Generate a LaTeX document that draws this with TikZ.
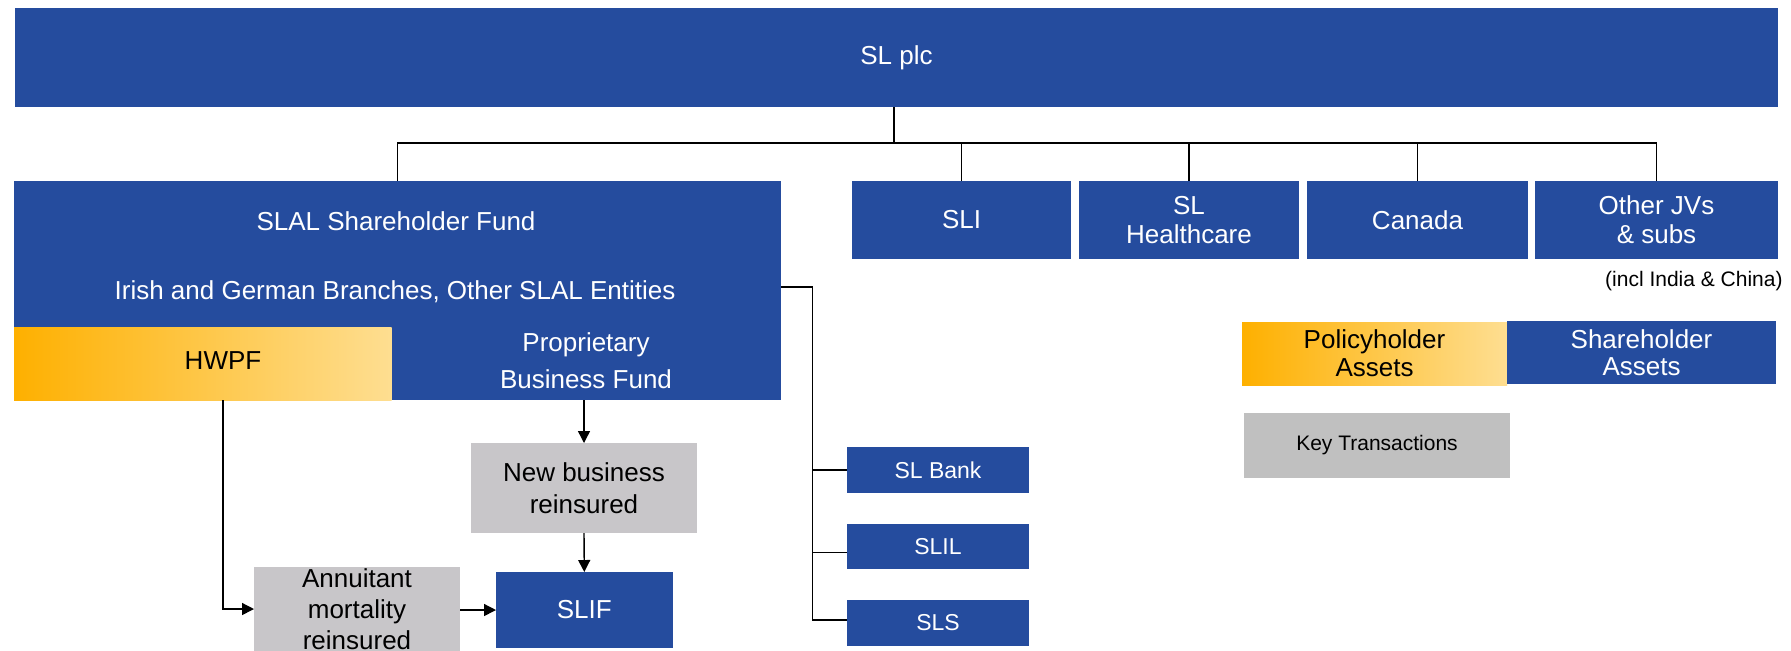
\documentclass[tikz,border=0pt]{standalone}
\usepackage{fontspec}
\setmainfont{Liberation Sans}
\usetikzlibrary{arrows.meta}
\definecolor{slblue}{RGB}{37,76,158}
\definecolor{txgray}{RGB}{200,198,201}
\definecolor{keygray}{RGB}{192,192,192}
\definecolor{orL}{RGB}{254,176,0}
\definecolor{orR}{RGB}{254,222,145}
\begin{document}
\begin{tikzpicture}[x=0.5pt,y=-0.5pt,
  box/.style={rectangle, inner sep=0pt, outer sep=0pt, fill=slblue, text=white, align=center},
  gbox/.style={rectangle, inner sep=0pt, outer sep=0pt, left color=orL, right color=orR, text=black, align=center},
  tbox/.style={rectangle, inner sep=0pt, outer sep=0pt, fill=txgray, text=black, align=center},
  kbox/.style={rectangle, inner sep=0pt, outer sep=0pt, fill=keygray, text=black, align=center},
  big/.style={font=\fontsize{13}{14.6}\selectfont},
  mid/.style={font=\fontsize{11.5}{13}\selectfont},
  small/.style={font=\fontsize{10.5}{12}\selectfont},
  txt/.style={inner sep=0pt, align=center},
  conn/.style={draw=black, line width=0.7pt},
  arr/.style={conn, -{Triangle[length=6pt,width=6pt]}}
]
\clip (0,0) rectangle (1791,650);
\fill[white] (0,0) rectangle (1791,650);

% top
\node[box, big, minimum width=881.5pt, minimum height=49.5pt] (slplc) at (896.5,57.5) {SL plc};

% SLAL block
\node[box, minimum width=383.5pt, minimum height=109.5pt] (slal) at (397.5,290.5) {};
\node[gbox, minimum width=188.75pt, minimum height=36.5pt] (hwpf) at (202.75,363.5) {};
\node[txt, big, text=white] (slalt) at (396,221) {SLAL Shareholder Fund};
\node[txt, big, text=white] (irish) at (395,292) {Irish and German Branches, Other SLAL Entities};
\node[txt, big, text=black] (hwpft) at (223,361) {HWPF};
\node[txt, text=white, font=\fontsize{13}{18.8}\selectfont] (prop) at (586,360.5) {Proprietary\\Business Fund};

% top row
\node[box, big, minimum width=109.5pt, minimum height=39pt] (sli) at (961.5,220) {SLI};
\node[box, big, minimum width=110pt, minimum height=39pt] (slh) at (1189,220) {SL\\Healthcare};
\node[box, big, minimum width=110.5pt, minimum height=39pt] (can) at (1417.5,220) {Canada};
\node[box, big, minimum width=121.5pt, minimum height=39pt] (oth) at (1656.5,220) {Other JVs\\\&~subs};
\node[txt, small, anchor=east] (incl) at (1783,281) {(incl India \& China)};

% legend
\node[gbox, font=\fontsize{13}{14}\selectfont, minimum width=132.5pt, minimum height=31.5pt] (pol) at (1374.5,353.5) {Policyholder\\Assets};
\node[box, font=\fontsize{13}{13.5}\selectfont, minimum width=134.5pt, minimum height=31.5pt] (sha) at (1641.5,352.5) {Shareholder\\Assets};
\node[kbox, small, minimum width=133pt, minimum height=32.5pt] (key) at (1377,445.5) {Key Transactions};

% subsidiaries
\node[box, mid, minimum width=91pt, minimum height=23pt] (bank) at (938,470) {SL Bank};
\node[box, mid, minimum width=91pt, minimum height=22.5pt] (slil) at (938,546.5) {SLIL};
\node[box, mid, minimum width=91pt, minimum height=23pt] (sls) at (938,623) {SLS};

% transactions
\node[tbox, font=\fontsize{13}{16}\selectfont, minimum width=113pt, minimum height=45pt] (newb) at (584,488) {New business\\reinsured};
\node[box, big, minimum width=88.3pt, minimum height=38pt] (slif) at (584.3,610) {SLIF};
\node[tbox, font=\fontsize{13}{15.5}\selectfont, minimum width=103pt, minimum height=42pt] (ann) at (357,609) {Annuitant\\mortality\\reinsured};

% connectors top
\coordinate (bus) at (894,143);
\draw[conn] (slplc.south -| bus) -- (bus);
\draw[conn] (slal.north) |- (bus) -| (oth.north);
\draw[conn] (sli.north) -- (sli.north |- bus);
\draw[conn] (slh.north) -- (slh.north |- bus);
\draw[conn] (can.north) -- (can.north |- bus);

% right connector
\coordinate (rb) at (812.5,287);
\coordinate (slilt) at ([yshift=-3pt]slil.west);
\coordinate (slst) at ([yshift=1.5pt]sls.west);
\draw[conn] (slal.east |- rb) -- (rb) |- (slst);
\draw[conn] (rb |- bank.west) -- (bank.west);
\draw[conn] (rb |- slilt) -- (slilt);

% arrows
\draw[arr] (newb.north |- slal.south) -- (newb.north);
\draw[arr] (newb.south) -- (slif.north);
\draw[arr] (hwpft |- hwpf.south) |- (ann.west);
\draw[arr] (ann.east |- slif.west) -- (slif.west);
\end{tikzpicture}
\end{document}
